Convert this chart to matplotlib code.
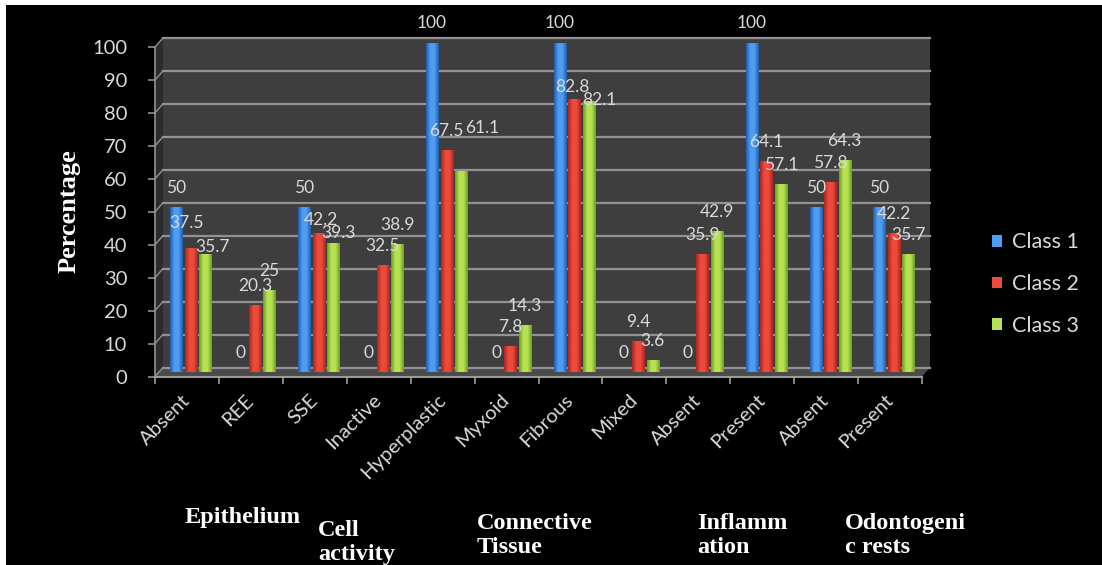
import matplotlib
matplotlib.use("Agg")
import matplotlib.pyplot as plt
import numpy as np
from matplotlib.colors import LinearSegmentedColormap
from matplotlib.patches import Polygon, Rectangle
from matplotlib.transforms import IdentityTransform, ScaledTranslation, offset_copy

categories = ["Absent", "REE", "SSE", "Inactive", "Hyperplastic", "Myxoid",
              "Fibrous", "Mixed", "Absent", "Present", "Absent", "Present"]
class1 = [50, 0, 50, 0, 100, 0, 100, 0, 0, 100, 50, 50]
class2 = [37.5, 20.3, 42.2, 32.5, 67.5, 7.8, 82.8, 9.4, 35.9, 64.1, 57.8, 42.2]
class3 = [35.7, 25, 39.3, 38.9, 61.1, 14.3, 82.1, 3.6, 42.9, 57.1, 64.3, 35.7]
series_names = ["Class 1", "Class 2", "Class 3"]
groups = ["Epithelium", "Cell\nactivity", "Connective\nTissue",
          "Inflamm\nation", "Odontogeni\nc rests"]
yticks = list(range(0, 101, 10))

W, H, DPI = 1102, 565, 100
DX, DY = 4, 4.5          # half the depth of the fake 3-D box, in pixels
SANS = "Lato"
SERIF = "Liberation Serif"
TXT = "#d9d9d9"

# (edge, middle) shades for the cylinder-like bars
shades = [("#1f5fae", "#4f9cf0"), ("#a8261c", "#ec4a3c"), ("#6f9a22", "#b6e253")]

# value labels sit 19 px above the bar; a few were dragged by hand (dx, dy in px)
LABEL_DY = 19
label_nudge = {(1, 0): (-4, 25), (2, 0): (7, 7), (1, 2): (2, 13), (2, 2): (5, 9.5),
               (2, 4): (21, 43), (1, 6): (-2, 12), (2, 6): (10, 1.5)}

fig = plt.figure(figsize=(W / DPI, H / DPI), dpi=DPI, facecolor="white")
fig.add_artist(Rectangle((6 / W, 0), 1, 1 - 5 / H, transform=fig.transFigure,
                         facecolor="black", edgecolor="none", zorder=-10))

ax = fig.add_axes([159 / W, (H - 372) / H, 767 / W, 329.5 / H])
ax.set_facecolor("none")
for s in ax.spines.values():
    s.set_visible(False)
n = len(categories)
ax.set_xlim(-0.5, n - 0.5)
ax.set_ylim(0, 100)

back = offset_copy(ax.transData, fig=fig, x=DX, y=DY, units="dots")
front = offset_copy(ax.transData, fig=fig, x=-DX, y=-DY, units="dots")


def px(tr, x, y):
    return tr.transform((x, y))


x0, x1 = -0.5, n - 0.5

# back wall, side wall and floor
ax.add_patch(Rectangle((x0, 0), n, 100, transform=back, facecolor="#3e3e3e",
                       edgecolor="none", zorder=0, clip_on=False))
ax.add_patch(Polygon([px(front, x0, 0), px(front, x0, 100), px(back, x0, 100),
                      px(back, x0, 0)], closed=True, transform=IdentityTransform(),
                     facecolor="#2c2c2c", edgecolor="none", zorder=0, clip_on=False))
ax.add_patch(Polygon([px(front, x0, 0), px(front, x1, 0), px(back, x1, 0),
                      px(back, x0, 0)], closed=True, transform=IdentityTransform(),
                     facecolor="#4a4a4a", edgecolor="none", zorder=0.5, clip_on=False))

grid_c = "#929292"
for v in yticks:
    ax.plot([x0, x1], [v, v], transform=back, color=grid_c, lw=1.6, zorder=1,
            clip_on=False)
    a, b = px(front, x0, v), px(back, x0, v)
    ax.plot([a[0], b[0]], [a[1], b[1]], transform=IdentityTransform(),
            color=grid_c, lw=1.0, zorder=1, clip_on=False)
ax.plot([x0, x0], [0, 100], transform=front, color=grid_c, lw=1.2, zorder=1,
        clip_on=False)
ax.plot([x0] * len(yticks), yticks, ls="none", marker="_", ms=6, mew=1.2,
        color=grid_c, clip_on=False,
        transform=offset_copy(ax.transData, fig=fig, x=-DX - 3, y=-DY, units="dots"))
ax.plot([x0, x1], [0, 0], transform=front, color="#9a9a9a", lw=1.5, zorder=4,
        clip_on=False)
ax.plot(np.arange(x0, x1 + 0.01), np.zeros(n + 1), ls="none", marker="|", ms=6,
        mew=1.2, color="#9a9a9a", clip_on=False,
        transform=offset_copy(ax.transData, fig=fig, x=-DX, y=-DY - 3, units="dots"))

# bars
x = np.arange(n)
width, step = 0.19, 0.227
handles = []
for i, (vals, name, (edge, mid)) in enumerate(zip([class1, class2, class3],
                                                   series_names, shades)):
    bars = ax.bar(x + (i - 1) * step, vals, width, color=mid, zorder=3,
                  label=name, clip_on=False)
    handles.append(bars)
    cmap = LinearSegmentedColormap.from_list(name, [edge, mid, mid, edge])
    grad = np.linspace(0, 1, 64).reshape(1, -1)
    for p in bars.patches:
        if p.get_height() <= 0:
            continue
        im = ax.imshow(grad, cmap=cmap, aspect="auto", zorder=3.1,
                       extent=[p.get_x(), p.get_x() + p.get_width(), 0, p.get_height()])
        im.set_clip_path(p)
    for j, (xc, v) in enumerate(zip(x + (i - 1) * step, vals)):
        dx, dy = label_nudge.get((i, j), (0, LABEL_DY))
        ax.annotate(f"{v:g}", (xc, v), xytext=(dx, dy), textcoords="offset pixels",
                    ha="center", va="center", color=TXT, fontsize=12.5,
                    family=SANS, zorder=6)

ax.set_xlim(x0, x1)
ax.set_ylim(0, 100)

# axis tick labels sit on the front edge of the box
ax.set_yticks(yticks)
ax.tick_params(axis="y", length=0, pad=20, labelsize=14.5, labelcolor=TXT)
for lbl in ax.get_yticklabels():
    lbl.set_family(SANS)
    lbl.set_transform(lbl.get_transform()
                      + ScaledTranslation(-DX / DPI, -DY / DPI, fig.dpi_scale_trans))
ax.set_xticks(x, categories, rotation=45, ha="right", va="center",
              rotation_mode="anchor")
ax.tick_params(axis="x", length=0, pad=15, labelsize=14.5, labelcolor=TXT)
for lbl in ax.get_xticklabels():
    lbl.set_family(SANS)
    lbl.set_transform(lbl.get_transform()
                      + ScaledTranslation(-DX / DPI, -DY / DPI, fig.dpi_scale_trans))

fig.text(69 / W, 1 - 211 / H, "Percentage", rotation=90, fontsize=19,
         fontweight="bold", family=SERIF, color="white", ha="center", va="center")

# category group captions under the axis (y is the baseline of the last line)
group_x = [185, 318, 477, 697, 845]
group_y = [523, 560, 553, 553, 553]
for g, gx, gy in zip(groups, group_x, group_y):
    fig.text(gx / W, 1 - gy / H, g, fontsize=17.5, fontweight="bold", family=SERIF,
             color="white", ha="left", va="baseline", linespacing=1.2)

fig.legend(handles=handles, labels=series_names, loc="center left",
           bbox_to_anchor=(973 / W, 1 - 284 / H), frameon=False,
           prop={"family": SANS, "size": 15.5}, labelcolor=TXT,
           handlelength=0.45, handleheight=0.45, handletextpad=0.45,
           labelspacing=1.0)

fig.savefig("out.png", dpi=DPI, facecolor=fig.get_facecolor())
